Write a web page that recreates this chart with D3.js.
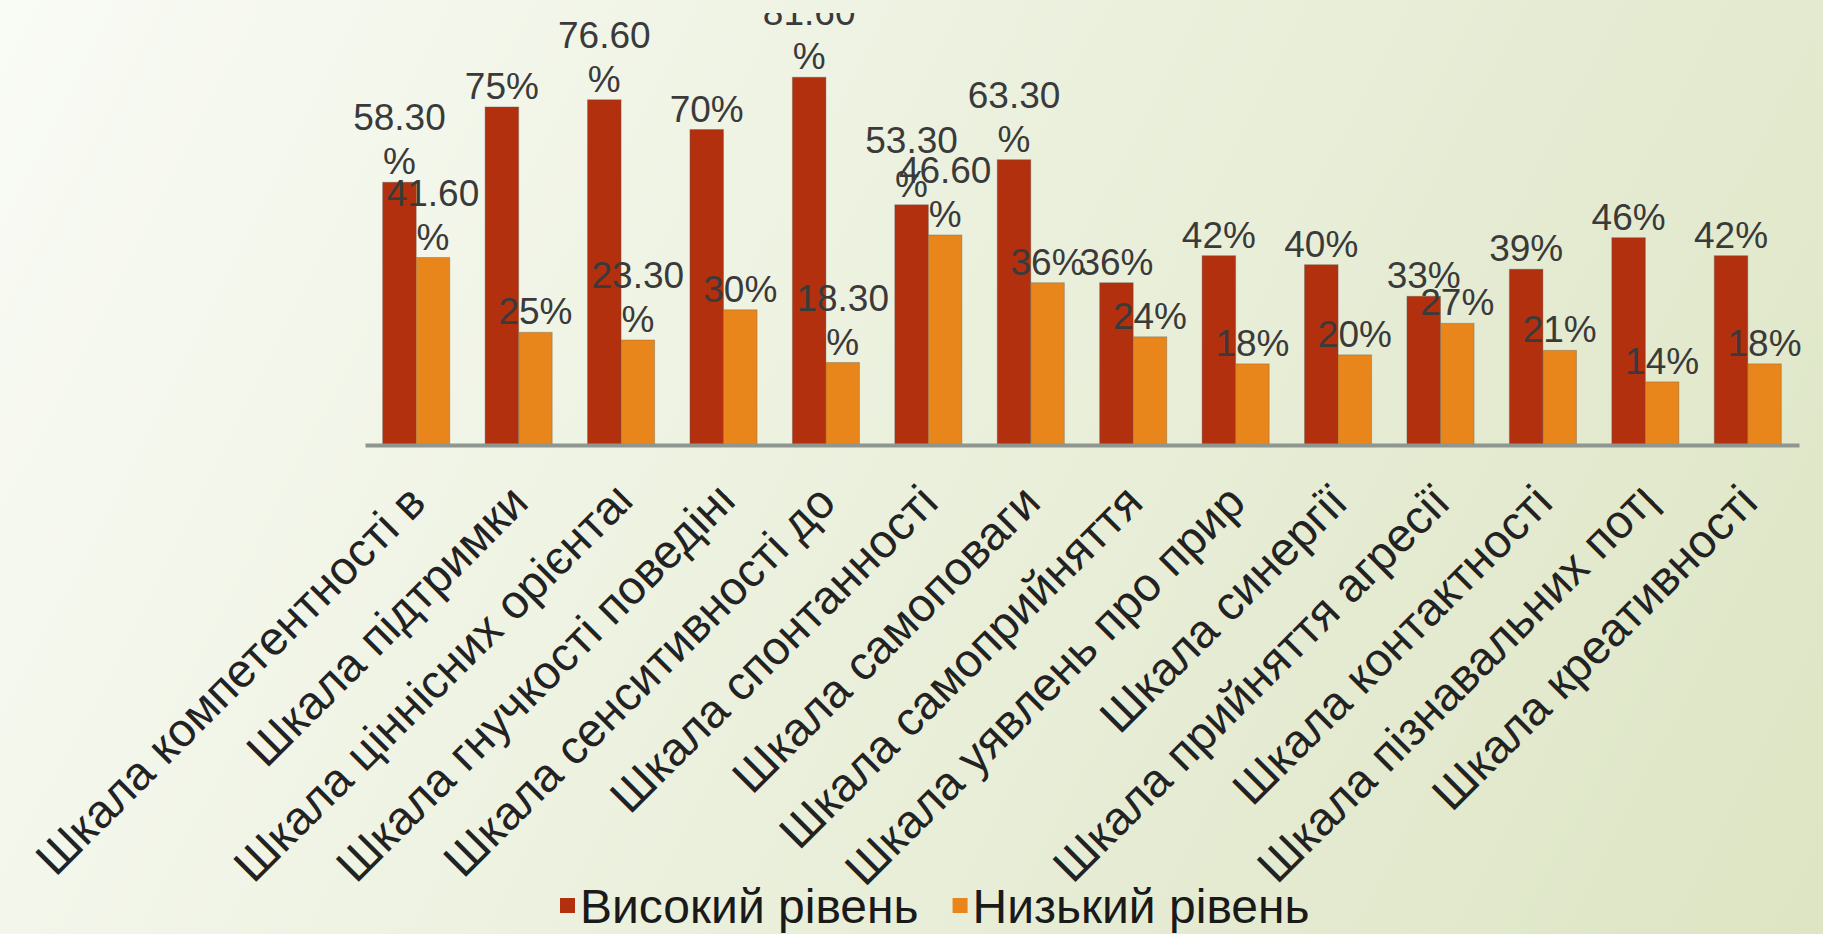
<!DOCTYPE html>
<html>
<head>
<meta charset="utf-8">
<script src="https://cdn.jsdelivr.net/npm/d3@7"></script>
<style>
  html, body { margin: 0; padding: 0; overflow: hidden; }
  svg { display: block; font-family: "Liberation Sans", Arial, sans-serif; }
</style>
</head>
<body>
<div id="chart"></div>
<script>
// scales of the test (what the axis shows is cut, like in the original)
const categories = [
  "Шкала компетентності в часі", "Шкала підтримки", "Шкала ціннісних орієнтацій",
  "Шкала гнучкості поведінки", "Шкала сенситивності до себе", "Шкала спонтанності",
  "Шкала самоповаги", "Шкала самоприйняття", "Шкала уявлень про природу людини",
  "Шкала синергії", "Шкала прийняття агресії", "Шкала контактності",
  "Шкала пізнавальних потреб", "Шкала креативності"
];
const tickLabels = [
  "Шкала компетентності в", "Шкала підтримки", "Шкала ціннісних орієнтац",
  "Шкала гнучкості поведінк", "Шкала сенситивності до", "Шкала спонтанності",
  "Шкала самоповаги", "Шкала самоприйняття", "Шкала уявлень про прир",
  "Шкала синергії", "Шкала прийняття агресії", "Шкала контактності",
  "Шкала пізнавальних потр", "Шкала креативності"
];
// last glyph only partly visible
const cutLast = [false, false, true, true, false, false, false, false, false, false, false, false, true, false];

const seriesNames = ["Високий рівень", "Низький рівень"];
const highValues = [58.3, 75, 76.6, 70, 81.6, 53.3, 63.3, 36, 42, 40, 33, 39, 46, 42];
const lowValues  = [41.6, 25, 23.3, 30, 18.3, 46.6, 36, 24, 18, 20, 27, 21, 14, 18];
const highLabels = ["58.30%", "75%", "76.60%", "70%", "81.60%", "53.30%", "63.30%", "36%", "42%", "40%", "33%", "39%", "46%", "42%"];
const lowLabels  = ["41.60%", "25%", "23.30%", "30%", "18.30%", "46.60%", "36%", "24%", "18%", "20%", "27%", "21%", "14%", "18%"];
const colors = ["#b2300e", "#e8861b"];

const W = 1823, H = 934;
const baseY = 445;

const svg = d3.select("#chart").append("svg")
  .attr("width", W)
  .attr("height", H);

const defs = svg.append("defs");
const grad = defs.append("linearGradient")
  .attr("id", "bg")
  .attr("gradientUnits", "userSpaceOnUse")
  .attr("x1", 0).attr("y1", 0).attr("x2", W).attr("y2", H);
grad.append("stop").attr("offset", "0%").attr("stop-color", "#f9fbf5");
grad.append("stop").attr("offset", "100%").attr("stop-color", "#dde5c4");

defs.append("clipPath").attr("id", "plotClip")
  .append("rect").attr("x", 0).attr("y", 13).attr("width", W).attr("height", H);
defs.append("clipPath").attr("id", "labelClip")
  .append("rect").attr("x", -2000).attr("y", -200).attr("width", 2000).attr("height", 400);

svg.append("rect").attr("width", W).attr("height", H).attr("fill", "url(#bg)");

let x0 = d3.scaleBand()
  .domain(categories)
  .range([365, 1799])
  .paddingInner(0.345)
  .paddingOuter(0.1725);

let x1 = d3.scaleBand()
  .domain(seriesNames)
  .range([0, x0.bandwidth()]);

let y = d3.scaleLinear()
  .domain([0, 100])
  .range([baseY, -5.7]);

let rows = categories.map((c, i) => ({
  cat: c,
  vals: [
    { s: seriesNames[0], v: highValues[i], label: highLabels[i] },
    { s: seriesNames[1], v: lowValues[i], label: lowLabels[i] }
  ]
}));

let plot = svg.append("g").attr("clip-path", "url(#plotClip)");

let groups = plot.selectAll(".grp")
  .data(rows)
  .enter().append("g")
  .attr("class", "grp")
  .attr("transform", d => `translate(${x0(d.cat)},0)`);

groups.selectAll("rect")
  .data(d => d.vals)
  .enter().append("rect")
  .attr("x", d => x1(d.s))
  .attr("y", d => y(d.v))
  .attr("width", x1.bandwidth())
  .attr("height", d => baseY - y(d.v))
  .attr("fill", (d, i) => colors[i])
  .attr("stroke", "rgba(90,90,90,0.35)")
  .attr("stroke-width", 1);

// axis line
svg.append("g")
  .attr("transform", `translate(0,${baseY})`)
  .call(d3.axisBottom(x0).tickSize(0).tickSizeOuter(0).tickFormat(""))
  .call(g => g.select(".domain").attr("stroke", "#8f9690").attr("stroke-width", 4));

// value labels, decimal ones wrap onto two lines
const valFont = 37, lineH = 44;
groups.selectAll(".val")
  .data(d => d.vals)
  .enter().append("text")
  .attr("class", "val")
  .attr("text-anchor", "middle")
  .attr("font-size", valFont)
  .attr("fill", "#3a3a3a")
  .each(function (d) {
    let lines = d.label.includes(".") ? [d.label.replace("%", ""), "%"] : [d.label];
    let cx = x1(d.s) + x1.bandwidth() / 2;
    let last = y(d.v) - 8;
    let t = d3.select(this);
    lines.forEach((ln, k) => {
      t.append("tspan")
        .attr("x", cx)
        .attr("y", last - (lines.length - 1 - k) * lineH)
        .text(ln);
    });
  });

// rotated category labels
const catFont = 47;
tickLabels.forEach((lab, i) => {
  let cx = x0(categories[i]) + x0.bandwidth() / 2;
  let g = svg.append("g")
    .attr("transform", `translate(${cx + 12},${baseY + 60}) rotate(-45)`);
  let t = g.append("text")
    .attr("text-anchor", "end")
    .attr("font-size", catFont)
    .attr("fill", "#222")
    .text(lab);
  if (cutLast[i]) {
    let full = t.node().getComputedTextLength();
    let part = t.node().getSubStringLength(0, lab.length - 1);
    let shift = (full - part) - 0.16 * catFont;
    t.attr("x", shift).attr("clip-path", "url(#labelClip)");
  }
});

// legend
const legFont = 48;
let lx = 560;
seriesNames.forEach((s, i) => {
  svg.append("rect")
    .attr("x", lx).attr("y", 898)
    .attr("width", 15).attr("height", 15)
    .attr("fill", colors[i]);
  let t = svg.append("text")
    .attr("x", lx + 20).attr("y", 923)
    .attr("font-size", legFont)
    .attr("fill", "#1a1a1a")
    .text(s);
  lx += 20 + t.node().getComputedTextLength() + 34;
});
</script>
</body>
</html>
